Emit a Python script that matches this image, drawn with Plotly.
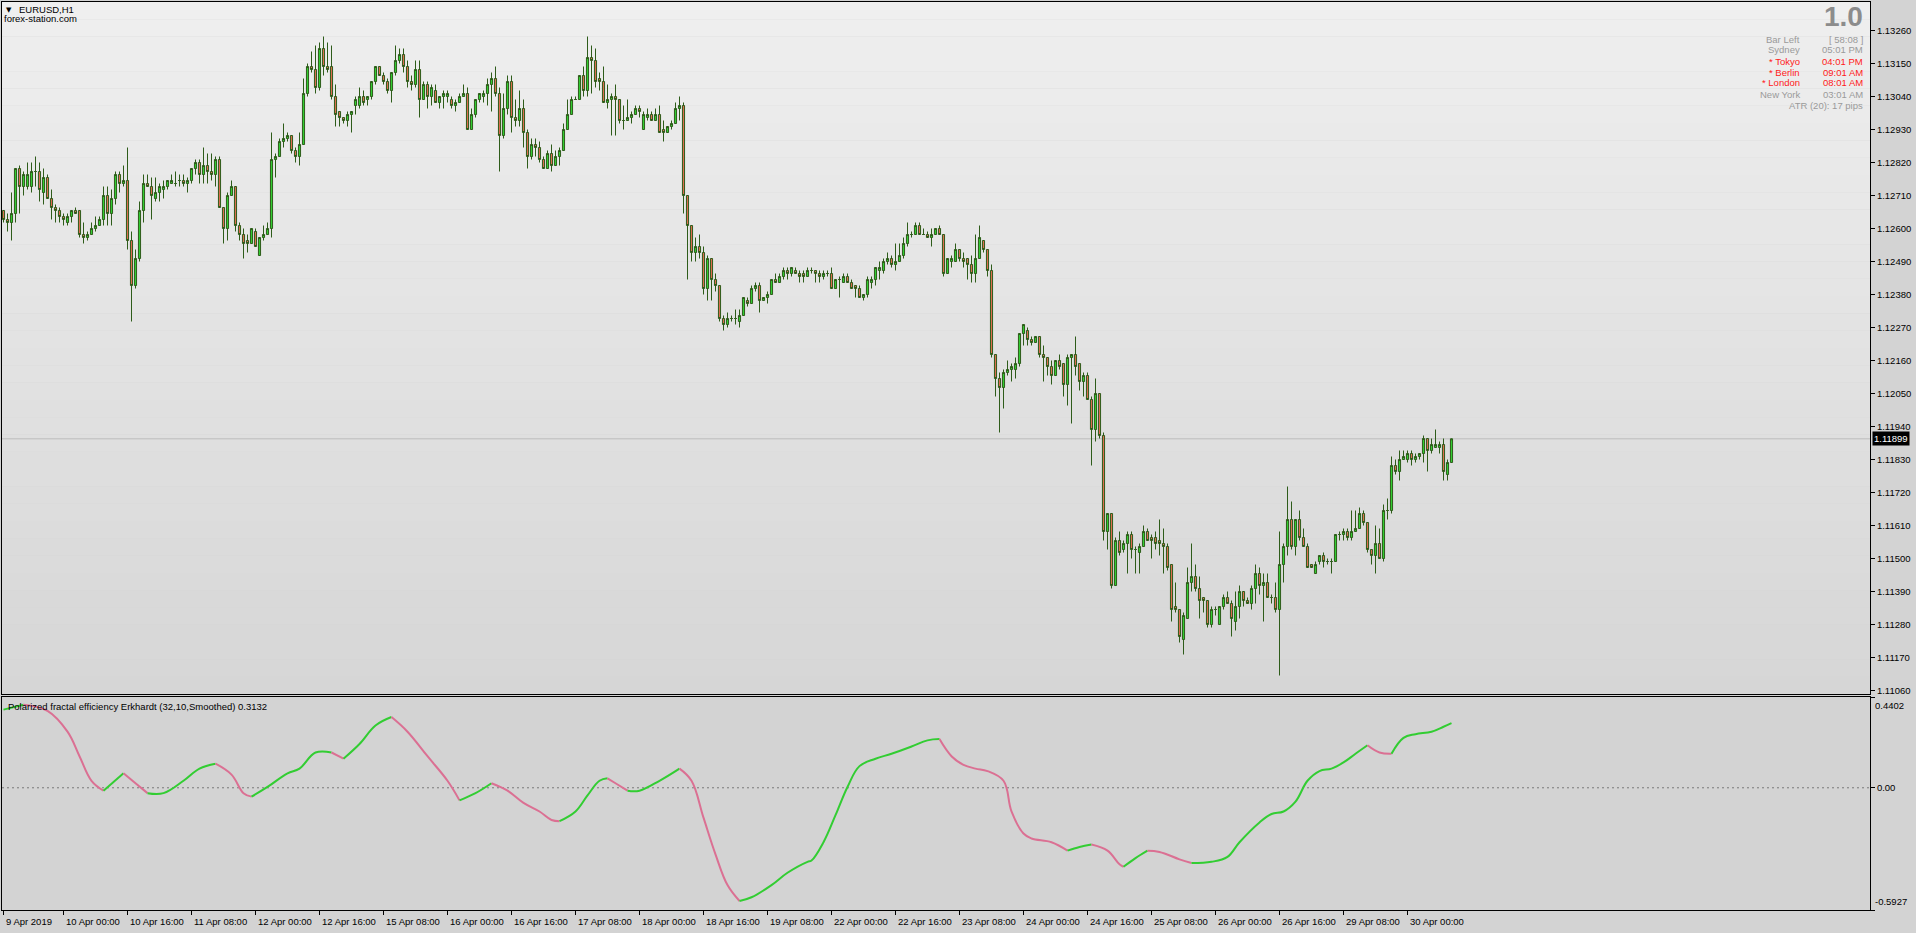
import plotly.graph_objects as go

# ---------------- data ----------------
open_ = [
 1.1266,1.1263,1.1262,1.1265,1.1280,1.1274,1.1274,1.1274,1.1279,1.1279,
 1.1272,1.1277,1.1270,1.1267,1.1266,1.1264,1.1262,1.1264,1.1266,1.1266,
 1.1258,1.1257,1.1258,1.1260,1.1261,1.1263,1.1271,1.1265,1.1270,1.1278,
 1.1275,1.1276,1.1256,1.1241,1.1250,1.1266,1.1275,1.1274,1.1270,1.1272,
 1.1273,1.1274,1.1275,1.1275,1.1276,1.1276,1.1275,1.1276,1.1280,1.1282,
 1.1278,1.1281,1.1279,1.1278,1.1283,1.1267,1.1260,1.1271,1.1274,1.1261,
 1.1258,1.1256,1.1255,1.1259,1.1251,1.1257,1.1258,1.1260,1.1283,1.1284,
 1.1289,1.1290,1.1291,1.1286,1.1284,1.1288,1.1305,1.1314,1.1313,1.1307,
 1.1320,1.1314,1.1314,1.1304,1.1299,1.1297,1.1296,1.1298,1.1301,1.1301,
 1.1304,1.1303,1.1304,1.1309,1.1314,1.1311,1.1309,1.1306,1.1312,1.1316,
 1.1318,1.1314,1.1309,1.1308,1.1313,1.1303,1.1308,1.1304,1.1306,1.1302,
 1.1304,1.1304,1.1303,1.1301,1.1302,
 1.1304,1.1305,1.1293,1.1298,1.1303,1.1304,1.1305,1.1308,1.1310,1.1305,
 1.1291,1.1300,1.1309,1.1297,1.1296,1.1300,1.1292,1.1284,1.1288,1.1287,
 1.1283,1.1280,1.1285,1.1281,1.1284,1.1286,1.1293,1.1298,1.1303,1.1303,
 1.1311,1.1306,1.1317,1.1316,1.1310,1.1309,1.1302,1.1303,1.1304,1.1303,
 1.1296,1.1296,1.1297,1.1298,1.1300,1.1293,1.1297,1.1298,1.1296,1.1298,
 1.1293,1.1292,1.1294,1.1295,1.1300,1.1301,1.1271,1.1261,1.1252,1.1254,
 1.1252,1.1240,1.1250,1.1243,1.1241,1.1230,1.1228,1.1230,1.1230,1.1229,
 1.1231,1.1236,1.1235,1.1240,1.1241,1.1236,1.1237,1.1238,1.1243,1.1242,
 1.1244,1.1246,1.1245,1.1246,1.1245,1.1245,1.1244,1.1246,1.1246,1.1245,
 1.1244,1.1245,1.1245,1.1240,1.1243,1.1242,1.1244,1.1242,1.1241,1.1240,
 1.1237,1.1238,1.1242,1.1243,1.1246,1.1246,1.1249,1.1250,1.1248,1.1249,
 1.1251,1.1255,
 1.1258,1.1258,1.1261,1.1258,1.1258,1.1257,1.1258,1.1260,1.1258,1.1245,
 1.1249,1.1249,1.1253,1.1250,1.1250,1.1248,1.1245,1.1250,1.1256,1.1253,
 1.1246,1.1218,1.1210,1.1207,1.1212,1.1213,1.1213,1.1215,1.1225,1.1226,
 1.1223,1.1222,1.1224,1.1218,1.1217,1.1214,1.1211,1.1216,1.1215,1.1208,
 1.1217,1.1218,1.1215,1.1209,1.1211,1.1203,1.1193,1.1205,1.1191,1.1159,
 1.1165,1.1141,1.1156,1.1153,1.1155,1.1158,1.1153,1.1152,1.1154,1.1159,
 1.1157,1.1157,1.1156,1.1155,1.1154,1.1148,1.1134,1.1133,1.1123,1.1130,
 1.1142,1.1144,1.1140,1.1137,1.1136,1.1128,1.1133,1.1128,1.1134,1.1137,
 1.1135,1.1129,1.1134,1.1139,1.1136,1.1135,1.1140,1.1145,1.1141,1.1142,
 1.1137,1.1137,1.1133,1.1148,1.1154,1.1163,1.1154,1.1163,1.1157,1.1154,
 1.1148,1.1145,1.1149,1.1151,1.1149,1.1149,1.1149,1.1158,1.1158,1.1159,
 1.1157,1.1159,1.1160,1.1165,1.1162,1.1153,1.1151,1.1155,1.1150,1.1166,
 1.1166,1.1181,1.1179,1.1183,1.1183,1.1185,1.1183,1.1184,1.1185,1.1190,
 1.1186,1.1187,1.1187,1.1188,1.1178,1.1182,
]

high = [
 1.1266,1.1265,1.1272,1.1280,1.1281,1.1279,1.1282,1.1282,1.1284,1.1282,
 1.1280,1.1278,1.1273,1.1268,1.1267,1.1265,1.1265,1.1266,1.1267,1.1266,
 1.1262,1.1259,1.1262,1.1264,1.1264,1.1274,1.1274,1.1273,1.1279,1.1279,
 1.1281,1.1287,1.1259,1.1253,1.1269,1.1278,1.1278,1.1277,1.1277,1.1275,
 1.1276,1.1276,1.1278,1.1279,1.1278,1.1278,1.1277,1.1280,1.1283,1.1283,
 1.1287,1.1285,1.1285,1.1284,1.1284,1.1267,1.1272,1.1276,1.1274,1.1262,
 1.1260,1.1258,1.1260,1.1260,1.1257,1.1261,1.1262,1.1292,1.1285,1.1290,
 1.1295,1.1292,1.1291,1.1287,1.1292,1.1310,1.1315,1.1319,1.1321,1.1322,
 1.1324,1.1322,1.1321,1.1308,1.1299,1.1297,1.1299,1.1299,1.1304,1.1307,
 1.1306,1.1304,1.1309,1.1314,1.1314,1.1312,1.1310,1.1312,1.1321,1.1320,
 1.1320,1.1316,1.1311,1.1316,1.1316,1.1309,1.1309,1.1308,1.1308,1.1304,
 1.1306,1.1306,1.1304,1.1303,1.1305,
 1.1308,1.1307,1.1300,1.1303,1.1305,1.1306,1.1310,1.1312,1.1314,1.1307,
 1.1305,1.1311,1.1311,1.1303,1.1306,1.1303,1.1293,1.1290,1.1290,1.1289,
 1.1284,1.1286,1.1288,1.1286,1.1287,1.1295,1.1303,1.1304,1.1304,1.1311,
 1.1314,1.1324,1.1321,1.1320,1.1312,1.1314,1.1308,1.1305,1.1308,1.1303,
 1.1301,1.1303,1.1299,1.1301,1.1301,1.1299,1.1300,1.1299,1.1300,1.1301,
 1.1296,1.1294,1.1296,1.1302,1.1304,1.1302,1.1271,1.1261,1.1257,1.1258,
 1.1254,1.1251,1.1250,1.1245,1.1241,1.1231,1.1232,1.1231,1.1233,1.1233,
 1.1237,1.1237,1.1241,1.1242,1.1242,1.1237,1.1239,1.1243,1.1245,1.1245,
 1.1247,1.1247,1.1247,1.1247,1.1246,1.1246,1.1247,1.1247,1.1246,1.1246,
 1.1246,1.1246,1.1247,1.1243,1.1244,1.1245,1.1245,1.1243,1.1241,1.1241,
 1.1238,1.1244,1.1244,1.1247,1.1249,1.1250,1.1252,1.1251,1.1255,1.1255,
 1.1257,1.1262,
 1.1259,1.1262,1.1262,1.1260,1.1259,1.1260,1.1260,1.1261,1.1258,1.1250,
 1.1251,1.1255,1.1253,1.1252,1.1250,1.1251,1.1258,1.1261,1.1256,1.1253,
 1.1248,1.1218,1.1212,1.1213,1.1216,1.1215,1.1217,1.1225,1.1228,1.1227,
 1.1224,1.1224,1.1224,1.1221,1.1217,1.1216,1.1216,1.1218,1.1215,1.1218,
 1.1218,1.1224,1.1215,1.1212,1.1212,1.1204,1.1210,1.1205,1.1192,1.1165,
 1.1165,1.1157,1.1159,1.1156,1.1159,1.1159,1.1154,1.1155,1.1161,1.1160,
 1.1158,1.1159,1.1163,1.1160,1.1155,1.1148,1.1142,1.1133,1.1132,1.1147,
 1.1155,1.1148,1.1144,1.1137,1.1136,1.1134,1.1134,1.1134,1.1138,1.1139,
 1.1136,1.1139,1.1141,1.1139,1.1137,1.1141,1.1148,1.1147,1.1145,1.1145,
 1.1138,1.1142,1.1159,1.1155,1.1174,1.1169,1.1163,1.1166,1.1160,1.1155,
 1.1148,1.1149,1.1151,1.1152,1.1150,1.1150,1.1158,1.1159,1.1160,1.1160,
 1.1166,1.1166,1.1167,1.1166,1.1162,1.1153,1.1161,1.1160,1.1168,1.1170,
 1.1184,1.1183,1.1186,1.1186,1.1186,1.1186,1.1185,1.1185,1.1191,1.1190,
 1.1190,1.1193,1.1189,1.1190,1.1183,1.1190,
]

low = [
 1.1262,1.1259,1.1256,1.1262,1.1265,1.1271,1.1273,1.1272,1.1274,1.1269,
 1.1268,1.1270,1.1263,1.1262,1.1262,1.1261,1.1261,1.1262,1.1265,1.1257,
 1.1255,1.1256,1.1258,1.1259,1.1261,1.1261,1.1261,1.1261,1.1268,1.1272,
 1.1274,1.1253,1.1229,1.1240,1.1249,1.1262,1.1274,1.1263,1.1269,1.1269,
 1.1270,1.1273,1.1275,1.1274,1.1274,1.1274,1.1272,1.1275,1.1278,1.1275,
 1.1275,1.1275,1.1276,1.1274,1.1267,1.1255,1.1256,1.1271,1.1259,1.1256,
 1.1250,1.1252,1.1255,1.1254,1.1251,1.1256,1.1258,1.1257,1.1277,1.1284,
 1.1287,1.1289,1.1285,1.1282,1.1281,1.1288,1.1304,1.1312,1.1305,1.1306,
 1.1311,1.1312,1.1303,1.1294,1.1294,1.1295,1.1294,1.1292,1.1298,1.1300,
 1.1301,1.1301,1.1303,1.1308,1.1311,1.1308,1.1305,1.1302,1.1311,1.1315,
 1.1312,1.1307,1.1306,1.1307,1.1297,1.1303,1.1300,1.1301,1.1302,1.1300,
 1.1300,1.1302,1.1300,1.1299,1.1302,
 1.1304,1.1293,1.1293,1.1297,1.1302,1.1302,1.1301,1.1299,1.1304,1.1279,
 1.1290,1.1298,1.1292,1.1294,1.1294,1.1287,1.1280,1.1283,1.1284,1.1282,
 1.1280,1.1280,1.1279,1.1281,1.1281,1.1286,1.1293,1.1298,1.1303,1.1303,
 1.1304,1.1304,1.1305,1.1307,1.1306,1.1302,1.1300,1.1291,1.1291,1.1295,
 1.1293,1.1296,1.1295,1.1298,1.1297,1.1293,1.1296,1.1296,1.1296,1.1292,
 1.1289,1.1292,1.1293,1.1295,1.1296,1.1265,1.1243,1.1249,1.1249,1.1250,
 1.1238,1.1236,1.1236,1.1239,1.1229,1.1226,1.1227,1.1229,1.1228,1.1227,
 1.1231,1.1234,1.1235,1.1239,1.1232,1.1236,1.1235,1.1238,1.1242,1.1242,
 1.1243,1.1243,1.1244,1.1245,1.1242,1.1242,1.1244,1.1245,1.1242,1.1242,
 1.1243,1.1244,1.1240,1.1240,1.1237,1.1242,1.1242,1.1240,1.1237,1.1237,
 1.1236,1.1237,1.1240,1.1241,1.1243,1.1245,1.1248,1.1247,1.1246,1.1249,
 1.1250,1.1254,
 1.1257,1.1258,1.1258,1.1258,1.1257,1.1254,1.1258,1.1258,1.1244,1.1245,
 1.1247,1.1249,1.1249,1.1247,1.1243,1.1242,1.1242,1.1250,1.1252,1.1244,
 1.1217,1.1204,1.1192,1.1200,1.1211,1.1209,1.1210,1.1214,1.1221,1.1221,
 1.1221,1.1222,1.1217,1.1209,1.1211,1.1208,1.1211,1.1213,1.1204,1.1201,
 1.1195,1.1211,1.1206,1.1204,1.1203,1.1181,1.1189,1.1190,1.1156,1.1153,
 1.1140,1.1141,1.1151,1.1152,1.1145,1.1150,1.1145,1.1145,1.1154,1.1156,
 1.1150,1.1153,1.1151,1.1145,1.1146,1.1129,1.1132,1.1122,1.1118,1.1130,
 1.1139,1.1139,1.1130,1.1132,1.1127,1.1127,1.1131,1.1128,1.1133,1.1135,
 1.1124,1.1126,1.1130,1.1134,1.1135,1.1133,1.1135,1.1138,1.1129,1.1137,
 1.1135,1.1132,1.1111,1.1142,1.1151,1.1153,1.1151,1.1156,1.1154,1.1147,
 1.1147,1.1145,1.1148,1.1147,1.1148,1.1145,1.1149,1.1156,1.1156,1.1156,
 1.1156,1.1159,1.1160,1.1161,1.1152,1.1148,1.1145,1.1150,1.1149,1.1163,
 1.1165,1.1178,1.1176,1.1183,1.1182,1.1181,1.1182,1.1183,1.1182,1.1179,
 1.1185,1.1187,1.1185,1.1176,1.1176,1.1182,
]

close = [
 1.1263,1.1262,1.1265,1.1280,1.1274,1.1278,1.1278,1.1279,1.1279,1.1273,
 1.1277,1.1270,1.1267,1.1266,1.1264,1.1263,1.1264,1.1266,1.1265,1.1258,
 1.1257,1.1258,1.1260,1.1261,1.1263,1.1271,1.1265,1.1270,1.1278,1.1275,
 1.1276,1.1256,1.1241,1.1250,1.1266,1.1275,1.1274,1.1271,1.1272,1.1274,
 1.1274,1.1276,1.1276,1.1275,1.1276,1.1275,1.1276,1.1280,1.1282,1.1278,
 1.1281,1.1279,1.1278,1.1283,1.1267,1.1260,1.1271,1.1274,1.1261,1.1258,
 1.1255,1.1255,1.1260,1.1254,1.1257,1.1258,1.1260,1.1283,1.1284,1.1289,
 1.1290,1.1291,1.1286,1.1284,1.1288,1.1305,1.1314,1.1313,1.1307,1.1320,
 1.1314,1.1313,1.1304,1.1298,1.1297,1.1296,1.1298,1.1299,1.1303,1.1304,
 1.1302,1.1304,1.1309,1.1314,1.1311,1.1309,1.1306,1.1312,1.1316,1.1318,
 1.1314,1.1309,1.1308,1.1313,1.1303,1.1308,1.1304,1.1307,1.1302,1.1304,
 1.1305,1.1305,1.1301,1.1302,1.1304,
 1.1305,1.1293,1.1298,1.1303,1.1305,1.1305,1.1308,1.1310,1.1305,1.1291,
 1.1300,1.1309,1.1297,1.1296,1.1300,1.1292,1.1284,1.1288,1.1287,1.1283,
 1.1280,1.1285,1.1281,1.1284,1.1286,1.1293,1.1298,1.1303,1.1303,1.1311,
 1.1306,1.1317,1.1316,1.1309,1.1309,1.1302,1.1303,1.1304,1.1303,1.1296,
 1.1296,1.1297,1.1298,1.1300,1.1299,1.1298,1.1298,1.1296,1.1298,1.1292,
 1.1292,1.1294,1.1295,1.1300,1.1301,1.1271,1.1261,1.1252,1.1254,1.1252,
 1.1240,1.1250,1.1243,1.1241,1.1230,1.1228,1.1230,1.1230,1.1230,1.1231,
 1.1237,1.1235,1.1240,1.1241,1.1236,1.1237,1.1238,1.1243,1.1242,1.1244,
 1.1246,1.1245,1.1247,1.1245,1.1244,1.1244,1.1246,1.1246,1.1245,1.1244,
 1.1245,1.1245,1.1240,1.1243,1.1243,1.1244,1.1242,1.1240,1.1240,1.1237,
 1.1238,1.1243,1.1243,1.1247,1.1247,1.1249,1.1250,1.1248,1.1249,1.1251,
 1.1255,1.1258,
 1.1258,1.1261,1.1258,1.1258,1.1257,1.1258,1.1260,1.1258,1.1245,1.1250,
 1.1250,1.1253,1.1250,1.1249,1.1248,1.1245,1.1250,1.1257,1.1253,1.1246,
 1.1218,1.1210,1.1207,1.1212,1.1213,1.1214,1.1215,1.1225,1.1228,1.1223,
 1.1222,1.1224,1.1218,1.1217,1.1214,1.1211,1.1216,1.1214,1.1208,1.1217,
 1.1218,1.1214,1.1209,1.1211,1.1203,1.1193,1.1205,1.1191,1.1159,1.1165,
 1.1141,1.1156,1.1152,1.1155,1.1158,1.1153,1.1153,1.1154,1.1159,1.1156,
 1.1156,1.1155,1.1155,1.1154,1.1147,1.1133,1.1133,1.1124,1.1131,1.1142,
 1.1144,1.1140,1.1136,1.1136,1.1128,1.1133,1.1133,1.1134,1.1137,1.1135,
 1.1130,1.1134,1.1139,1.1136,1.1135,1.1140,1.1145,1.1141,1.1142,1.1137,
 1.1137,1.1133,1.1148,1.1154,1.1163,1.1154,1.1163,1.1157,1.1154,1.1147,
 1.1147,1.1148,1.1151,1.1149,1.1149,1.1149,1.1158,1.1158,1.1159,1.1157,
 1.1159,1.1160,1.1165,1.1162,1.1153,1.1151,1.1155,1.1150,1.1166,1.1166,
 1.1181,1.1179,1.1183,1.1184,1.1185,1.1183,1.1184,1.1185,1.1190,1.1186,
 1.1188,1.1188,1.1188,1.1179,1.1182,1.11899,
]
bars = list(range(len(close)))

# Polarized fractal efficiency (Erkhardt 32,10, smoothed), read at bar positions
pfe_bar = [0,5,11,16,19,22,25,30,33,36,40,45,49,53,57,60,62,66,71,74,
           78,82,85,89,93,97,101,106,111,114,118,122,126,130,134,137,139,143,146,149,
           151,153,156,159,164,169,172,175,178,181,184,187,192,196,201,202,205,208,211,214,
           218,222,227,231,234,237,240,243,246,250,252,255,257,262,266,269,272,276,279,280,
           283,286,289,294,297,302,306,309,314,317,320,323,326,329,332,335,338,341,344,347,
           350,353,357,360,362]
pfe_val = [0.379,0.403,0.373,0.272,0.153,0.034,-0.014,0.070,0.022,-0.026,
           -0.026,0.034,0.093,0.117,0.064,-0.026,-0.043,0.004,0.070,0.093,
           0.171,0.171,0.141,0.212,0.302,0.343,0.272,0.153,0.034,-0.061,
           -0.026,0.022,-0.014,-0.073,-0.115,-0.156,-0.162,-0.115,-0.037,0.034,
           0.046,0.022,-0.014,-0.014,0.034,0.093,0.034,-0.145,-0.323,-0.472,
           -0.549,-0.531,-0.472,-0.412,-0.359,-0.353,-0.264,-0.133,0.004,0.105,
           0.141,0.165,0.200,0.230,0.236,0.153,0.111,0.093,0.081,0.034,
           -0.115,-0.222,-0.246,-0.264,-0.305,-0.287,-0.275,-0.305,-0.371,-0.383,
           -0.341,-0.305,-0.311,-0.347,-0.365,-0.359,-0.335,-0.264,-0.168,-0.127,
           -0.115,-0.067,0.034,0.081,0.093,0.123,0.165,0.206,0.171,0.165,
           0.242,0.260,0.272,0.296,0.3132]

tick_bar = [0,15,31,47,63,79,95,111,127,143,159,175,191,207,223,239,255,271,287,303,319,335,351]
tick_text = ["9 Apr 2019","10 Apr 00:00","10 Apr 16:00","11 Apr 08:00","12 Apr 00:00","12 Apr 16:00",
             "15 Apr 08:00","16 Apr 00:00","16 Apr 16:00","17 Apr 08:00","18 Apr 00:00","18 Apr 16:00",
             "19 Apr 08:00","22 Apr 00:00","22 Apr 16:00","23 Apr 08:00","24 Apr 00:00","24 Apr 16:00",
             "25 Apr 08:00","26 Apr 00:00","26 Apr 16:00","29 Apr 08:00","30 Apr 00:00"]

price_ticks = [1.13260,1.13150,1.13040,1.12930,1.12820,1.12710,1.12600,1.12490,1.12380,1.12270,
               1.12160,1.12050,1.11940,1.11830,1.11720,1.11610,1.11500,1.11390,1.11280,1.11170,1.11060]
last_price = 1.11899
pfe_max, pfe_min = 0.4402, -0.5927

info_rows = [("Bar Left", "[ 58:08 ]", "#9A9A9A"),
             ("Sydney", "05:01 PM", "#9A9A9A"),
             ("* Tokyo", "04:01 PM", "#FF1A1A"),
             ("* Berlin", "09:01 AM", "#FF1A1A"),
             ("* London", "08:01 AM", "#FF1A1A"),
             ("New York", "03:01 AM", "#9A9A9A")]

# ---------------- styling ----------------
W, H = 1916, 933
L_PX, R_PX, T_PX, B_PX = 2, 1870, 2, 910
MAIN_BOTTOM, SUB_TOP = 694, 697
FONT = "Liberation Sans, Arial, sans-serif"
BULL, BEAR, EDGE = "#32CD32", "#DC6E50", "#2E5C1A"
GREEN, PINK = "#32CD32", "#DB7093"


def px_x(x):
    return (x - L_PX) / (R_PX - L_PX)


def px_y(y):
    return (B_PX - y) / (B_PX - T_PX)


fig = go.Figure()

fig.add_trace(go.Candlestick(
    x=bars, open=open_, high=high, low=low, close=close,
    xaxis="x", yaxis="y", whiskerwidth=0,
    increasing=dict(line=dict(color=EDGE, width=1), fillcolor=BULL),
    decreasing=dict(line=dict(color=EDGE, width=1), fillcolor=BEAR),
    hoverinfo="skip", showlegend=False))

# PFE line coloured by direction
runs = []
cur = [0]
cur_up = pfe_val[1] >= pfe_val[0]
for k in range(1, len(pfe_val)):
    up = pfe_val[k] >= pfe_val[k - 1]
    if up != cur_up:
        runs.append((cur_up, cur))
        cur = [k - 1]
        cur_up = up
    cur.append(k)
runs.append((cur_up, cur))
for up, idx in runs:
    fig.add_trace(go.Scatter(
        x=[pfe_bar[j] for j in idx], y=[pfe_val[j] for j in idx],
        mode="lines", xaxis="x2", yaxis="y2",
        line=dict(color=GREEN if up else PINK, width=2, shape="spline", smoothing=1.1),
        hoverinfo="skip", showlegend=False))

main_dom = [px_y(MAIN_BOTTOM), 1.0]
sub_dom = [0.0, px_y(SUB_TOP)]
y_top = 1.13260 + (30.5 - T_PX) / 30000.0
y_bot = 1.13260 - (MAIN_BOTTOM - 30.5) / 30000.0
x_rng = [(L_PX - 3.5) / 4.0, (R_PX - 3.5) / 4.0]

shapes = []
# gradient background of the price window
N = 40
top_c, bot_c = 0xEF, 0xD6
for s in range(N):
    c = int(round(top_c + (bot_c - top_c) * (s + 0.5) / N))
    y1 = 1.0 - (1.0 - main_dom[0]) * s / N
    y0 = 1.0 - (1.0 - main_dom[0]) * (s + 1) / N
    shapes.append(dict(type="rect", xref="paper", yref="paper", x0=0, x1=1, y0=y0, y1=y1,
                       fillcolor="rgb(%d,%d,%d)" % (c, c, c), line=dict(width=0), layer="below"))
shapes.append(dict(type="rect", xref="paper", yref="paper", x0=0, x1=1, y0=sub_dom[0], y1=sub_dom[1],
                   fillcolor="#D3D3D3", line=dict(width=0), layer="below"))
# bid line
shapes.append(dict(type="line", xref="x", yref="y", x0=x_rng[0], x1=x_rng[1], y0=last_price, y1=last_price,
                   line=dict(color="#BDBDBD", width=1), layer="below"))
# zero level of indicator
shapes.append(dict(type="line", xref="x2", yref="y2", x0=x_rng[0], x1=x_rng[1], y0=0, y1=0,
                   line=dict(color="#7A7A7A", width=1, dash="2px,3px"), layer="below"))

ann = []
ann.append(dict(text="▼", x=px_x(4), y=px_y(10), xref="paper", yref="paper", xanchor="left", yanchor="middle",
                showarrow=False, font=dict(family="DejaVu Sans", size=7, color="black")))
ann.append(dict(text="EURUSD,H1", x=px_x(17), y=px_y(9), xref="paper", yref="paper", xanchor="left",
                yanchor="middle", showarrow=False, font=dict(family=FONT, size=9.5, color="black")))
ann.append(dict(text="forex-station.com", x=px_x(2), y=px_y(18), xref="paper", yref="paper", xanchor="left",
                yanchor="middle", showarrow=False, font=dict(family=FONT, size=9.5, color="black")))
ann.append(dict(text="Polarized fractal efficiency Erkhardt (32,10,Smoothed) 0.3132", x=px_x(6), y=px_y(706),
                xref="paper", yref="paper", xanchor="left", yanchor="middle", showarrow=False,
                font=dict(family=FONT, size=9.5, color="black")))
# info block top right
ann.append(dict(text="<b>1.0</b>", x=px_x(1865), y=px_y(16), xref="paper", yref="paper", xanchor="right",
                yanchor="middle", showarrow=False,
                font=dict(family="Liberation Sans Narrow, Liberation Sans, Arial", size=28, color="#8C8C8C")))
for r, (lab, val, col) in enumerate(info_rows):
    yy = px_y(39 + 11 * r)
    ann.append(dict(text=lab, x=px_x(1802), y=yy, xref="paper", yref="paper", xanchor="right", yanchor="middle",
                    showarrow=False, font=dict(family=FONT, size=9.5, color=col)))
    ann.append(dict(text=val, x=px_x(1865), y=yy, xref="paper", yref="paper", xanchor="right", yanchor="middle",
                    showarrow=False, font=dict(family=FONT, size=9.5, color=col)))
ann.append(dict(text="ATR (20): 17 pips", x=px_x(1865), y=px_y(105), xref="paper", yref="paper", xanchor="right",
                yanchor="middle", showarrow=False, font=dict(family=FONT, size=9.5, color="#9A9A9A")))
# current price box
ann.append(dict(text="%.5f" % last_price, x=1.0, y=last_price, xref="paper", yref="y", xanchor="left",
                yanchor="middle", xshift=2, showarrow=False, bgcolor="black", borderpad=1,
                font=dict(family=FONT, size=9.5, color="white")))
# indicator scale labels
ann.append(dict(text="%.4f" % pfe_max, x=1.0, y=pfe_max, xref="paper", yref="y2", xanchor="left", yanchor="top",
                xshift=3, yshift=-1, showarrow=False, font=dict(family=FONT, size=9.5, color="black")))
ann.append(dict(text="%.4f" % pfe_min, x=1.0, y=pfe_min, xref="paper", yref="y2", xanchor="left",
                yanchor="bottom", xshift=3, yshift=1, showarrow=False, font=dict(family=FONT, size=9.5, color="black")))
# time labels
for b, t in zip(tick_bar, tick_text):
    ann.append(dict(text=t, x=b, y=px_y(914), xref="x2", yref="paper", xanchor="left", yanchor="top",
                    xshift=0, showarrow=False, font=dict(family=FONT, size=9.5, color="black")))

axis_common = dict(showgrid=False, zeroline=False, showline=True, mirror=True, linecolor="black", linewidth=1)

fig.update_layout(
    width=W, height=H,
    margin=dict(l=L_PX, r=W - R_PX, t=T_PX, b=H - B_PX, pad=0),
    paper_bgcolor="#D3D3D3", plot_bgcolor="rgba(0,0,0,0)",
    boxgap=0.25,
    hovermode=False,
    xaxis=dict(domain=[0, 1], anchor="y", range=x_rng, showticklabels=False, ticks="",
               rangeslider=dict(visible=False), **axis_common),
    yaxis=dict(domain=main_dom, anchor="x", range=[y_bot, y_top], side="right",
               tickvals=price_ticks, ticktext=["%.5f" % v for v in price_ticks],
               ticks="outside", ticklen=4, tickcolor="black",
               tickfont=dict(family=FONT, size=9.5, color="black"), **axis_common),
    xaxis2=dict(domain=[0, 1], anchor="y2", matches="x", range=x_rng, tickvals=tick_bar,
                ticktext=["" for _ in tick_bar], ticks="outside", ticklen=4, tickcolor="black",
                rangeslider=dict(visible=False), **axis_common),
    yaxis2=dict(domain=sub_dom, anchor="x2", range=[pfe_min, pfe_max], side="right",
                tickvals=[pfe_max, 0, pfe_min], ticktext=["", "0.00", ""],
                ticks="outside", ticklen=4, tickcolor="black",
                tickfont=dict(family=FONT, size=9.5, color="black"), **axis_common),
    shapes=shapes, annotations=ann, showlegend=False,
)

fig.write_html("out.html", config={"displayModeBar": False},
               post_script="document.body.style.margin='0';document.body.style.overflow='hidden';")
